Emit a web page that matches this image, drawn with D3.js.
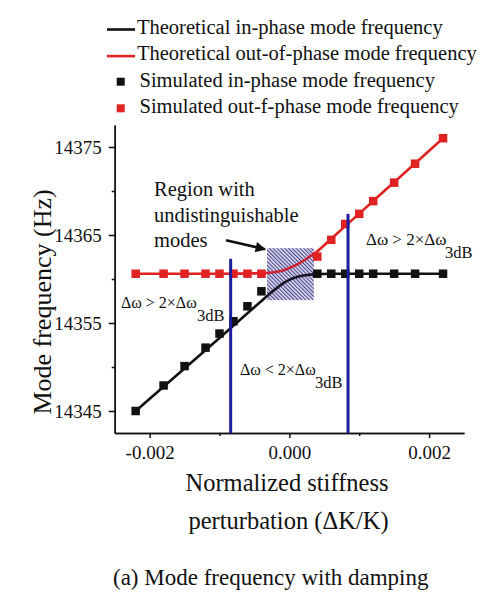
<!DOCTYPE html>
<html>
<head>
<meta charset="utf-8">
<script src="https://cdn.jsdelivr.net/npm/d3@7"></script>
<style>
  body { margin: 0; background: #fff; }
  svg { display: block; }
  svg text { font-family: "Liberation Serif", "Times New Roman", serif; }
</style>
</head>
<body>
<div id="chart"></div>
<script>
// simulated points (normalized stiffness perturbation vs Hz)
const simStiffness = [-0.0022, -0.0018, -0.0015, -0.0012, -0.001, -0.0008, -0.0006, -0.0004,
  0.0004, 0.0006, 0.0008, 0.001, 0.0012, 0.0015, 0.0018, 0.0022];
const simInPhase = [14345.0, 14347.9, 14350.1, 14352.2, 14353.8, 14355.2, 14356.9, 14358.6,
  14360.6, 14360.6, 14360.6, 14360.6, 14360.6, 14360.6, 14360.6, 14360.6];
const simOutPhase = [14360.6, 14360.6, 14360.6, 14360.6, 14360.6, 14360.6, 14360.6, 14360.6,
  14362.55, 14364.45, 14366.25, 14367.4, 14368.85, 14370.95, 14373.1, 14376.0];

// theoretical curves
const theoryStiffness = [-0.0022, -0.001, -0.0004, -0.0003, -0.0002, -0.0001, 0, 0.0001,
  0.0002, 0.0003, 0.0004, 0.0006, 0.001, 0.0015, 0.0022];
const theoryInPhase = [14345.0, 14353.3, 14357.5, 14358.2, 14358.85, 14359.45, 14359.9, 14360.2,
  14360.4, 14360.5, 14360.55, 14360.6, 14360.6, 14360.6, 14360.6];
const theoryOutPhase = [14360.6, 14360.6, 14360.65, 14360.7, 14360.8, 14360.95, 14361.25, 14361.6,
  14362.05, 14362.6, 14363.15, 14364.58, 14367.43, 14371.0, 14376.0];

// axes
const xTicks = [-0.002, 0, 0.002];
const xMinorTicks = [-0.001, 0.001];
const yTicks = [14345, 14355, 14365, 14375];
const yMinorTicks = [14350, 14360, 14370];

// annotations in data space
const boundaryStiffness = [-0.00084, 0.00084];
const boundaryTop = [14362.3, 14367.4];
const regionStiffness = [-0.00032, 0.00035];
const regionFreq = [14357.6, 14363.5];

const legendLabels = [
  'Theoretical in-phase mode frequency',
  'Theoretical out-of-phase mode frequency',
  'Simulated in-phase mode frequency',
  'Simulated out-f-phase mode frequency',
];
const legendKinds = ['line', 'line', 'square', 'square'];

const BLACK = '#111111';
const RED = '#e02222';
const BLUE = '#1c1c9e';
const FONT = '"Liberation Serif", "Times New Roman", serif';

class ModeChart {
  constructor(_config) {
    this.config = {
      parentElement: _config.parentElement,
      containerWidth: 490,
      containerHeight: 598,
      margin: { top: 125, right: 26, bottom: 165, left: 114.7 },
    };
    this.initVis();
  }

  initVis() {
    const vis = this;
    const cfg = vis.config;
    cfg.width = cfg.containerWidth - cfg.margin.left - cfg.margin.right;
    cfg.height = cfg.containerHeight - cfg.margin.top - cfg.margin.bottom;

    vis.svg = d3.select(cfg.parentElement).append('svg')
      .attr('width', cfg.containerWidth)
      .attr('height', cfg.containerHeight);

    vis.chart = vis.svg.append('g')
      .attr('transform', `translate(${cfg.margin.left},${cfg.margin.top})`);

    vis.xScale = d3.scaleLinear().domain([-0.0025, 0.0025]).range([0, cfg.width]);
    vis.yScale = d3.scaleLinear().domain([14342.5, 14377.5]).range([cfg.height, 0]);

    // hatch pattern for the region
    const defs = vis.svg.append('defs');
    const pat = defs.append('pattern')
      .attr('id', 'hatch')
      .attr('patternUnits', 'userSpaceOnUse')
      .attr('width', 2.7)
      .attr('height', 2.7)
      .attr('patternTransform', 'rotate(-45)');
    pat.append('rect').attr('width', 2.7).attr('height', 2.7).attr('fill', '#ffffff');
    pat.append('line')
      .attr('x1', 0.6).attr('y1', 0).attr('x2', 0.6).attr('y2', 2.7)
      .attr('stroke', '#2a2a78').attr('stroke-width', 1.0);

    defs.append('marker')
      .attr('id', 'arrowhead')
      .attr('viewBox', '0 0 10 10')
      .attr('refX', 9).attr('refY', 5)
      .attr('markerWidth', 5).attr('markerHeight', 4)
      .attr('markerUnits', 'strokeWidth')
      .attr('orient', 'auto')
      .append('path').attr('d', 'M0,0L10,5L0,10z').attr('fill', BLACK);

    vis.renderVis();
  }

  renderVis() {
    const vis = this;
    const cfg = vis.config;
    const x = vis.xScale;
    const y = vis.yScale;

    // axes
    const xAxis = d3.axisBottom(x).tickValues(xTicks).tickSize(5).tickSizeOuter(0)
      .tickPadding(8).tickFormat(d => d.toFixed(3));
    const xMinor = d3.axisBottom(x).tickValues(xMinorTicks).tickSize(3).tickSizeOuter(0)
      .tickFormat('');
    const yAxis = d3.axisLeft(y).tickValues(yTicks).tickSize(6).tickSizeOuter(0)
      .tickPadding(7).tickFormat(d3.format('d'));
    const yMinor = d3.axisLeft(y).tickValues(yMinorTicks).tickSize(3).tickSizeOuter(0)
      .tickFormat('');

    [
      vis.chart.append('g').attr('transform', `translate(0,${cfg.height})`).call(xMinor),
      vis.chart.append('g').attr('transform', `translate(0,${cfg.height})`).call(xAxis),
      vis.chart.append('g').call(yMinor),
      vis.chart.append('g').call(yAxis),
    ].forEach(g => {
      g.attr('font-family', FONT);
      g.selectAll('path, line').attr('stroke', BLACK).attr('stroke-width', 1.5);
      g.selectAll('text').attr('fill', BLACK).attr('font-family', FONT).attr('font-size', 19);
    });

    // region with undistinguishable modes (hatch under the curves)
    const rx = x(regionStiffness[0]);
    const ry = y(regionFreq[1]);
    const rw = x(regionStiffness[1]) - rx;
    const rh = y(regionFreq[0]) - ry;
    vis.chart.append('rect')
      .attr('x', rx).attr('y', ry).attr('width', rw).attr('height', rh)
      .attr('fill', 'url(#hatch)');

    // theory lines
    const lineGen = (vals) => d3.line()
      .x((d, i) => x(theoryStiffness[i]))
      .y(d => y(d))
      .curve(d3.curveMonotoneX)(vals);

    vis.chart.append('path')
      .attr('d', lineGen(theoryInPhase))
      .attr('fill', 'none').attr('stroke', BLACK).attr('stroke-width', 2.6);
    vis.chart.append('path')
      .attr('d', lineGen(theoryOutPhase))
      .attr('fill', 'none').attr('stroke', RED).attr('stroke-width', 2.6);

    // blue-ish tint over the region
    vis.chart.append('rect')
      .attr('x', rx).attr('y', ry).attr('width', rw).attr('height', rh)
      .attr('fill', 'rgba(70,50,170,0.14)');

    // simulated points
    const sq = 8.5;
    const drawSquares = (vals, color) => {
      vis.chart.append('g').selectAll('rect')
        .data(vals)
        .join('rect')
          .attr('x', (d, i) => x(simStiffness[i]) - sq / 2)
          .attr('y', d => y(d) - sq / 2)
          .attr('width', sq).attr('height', sq)
          .attr('fill', color);
    };
    drawSquares(simInPhase, BLACK);
    drawSquares(simOutPhase, RED);

    // 3dB boundaries
    vis.chart.append('g').selectAll('line')
      .data(boundaryStiffness)
      .join('line')
        .attr('x1', d => x(d)).attr('x2', d => x(d))
        .attr('y1', (d, i) => y(boundaryTop[i]))
        .attr('y2', cfg.height)
        .attr('stroke', BLUE).attr('stroke-width', 3);

    // arrow to region
    vis.chart.append('line')
      .attr('x1', rx - 41).attr('y1', ry - 8)
      .attr('x2', rx - 2).attr('y2', ry + 1)
      .attr('stroke', BLACK).attr('stroke-width', 2.6)
      .attr('marker-end', 'url(#arrowhead)');

    // text annotations (page coordinates)
    const regionText = vis.svg.append('text')
      .attr('fill', BLACK).attr('font-family', FONT).attr('font-size', 20.5);
    ['Region with', 'undistinguishable', 'modes'].forEach((t, i) => {
      regionText.append('tspan').attr('x', 154).attr('y', 196 + i * 25.6).text(t);
    });

    const condition = (tx, ty, main, size, subX) => {
      vis.svg.append('text').attr('fill', BLACK).attr('font-family', FONT)
        .attr('x', tx).attr('y', ty).attr('font-size', size)
        .text(main);
      vis.svg.append('text').attr('fill', BLACK).attr('font-family', FONT)
        .attr('x', subX).attr('y', ty + 13).attr('font-size', 16.5)
        .text('3dB');
    };
    condition(366, 245, 'Δω > 2×Δω', 17, 445);
    condition(121, 308, 'Δω > 2×Δω', 16, 197);
    condition(240, 375, 'Δω < 2×Δω', 16, 315);

    // axis titles
    vis.svg.append('text')
      .attr('transform', 'translate(51,302) rotate(-90)')
      .attr('text-anchor', 'middle')
      .attr('fill', BLACK).attr('font-family', FONT).attr('font-size', 26)
      .text('Mode frequency (Hz)');
    vis.svg.append('text')
      .attr('x', 287).attr('y', 491).attr('text-anchor', 'middle')
      .attr('fill', BLACK).attr('font-family', FONT).attr('font-size', 24.5)
      .text('Normalized stiffness');
    vis.svg.append('text')
      .attr('x', 288.5).attr('y', 529).attr('text-anchor', 'middle')
      .attr('fill', BLACK).attr('font-family', FONT).attr('font-size', 24.5)
      .text('perturbation (ΔK/K)');
    vis.svg.append('text')
      .attr('x', 113).attr('y', 585)
      .attr('fill', BLACK).attr('font-family', FONT).attr('font-size', 23)
      .text('(a) Mode frequency with damping');

    // legend
    const legend = vis.svg.append('g');
    legendLabels.forEach((label, i) => {
      const base = 33.5 + i * 26.6;
      const color = i % 2 === 0 ? BLACK : RED;
      if (legendKinds[i] === 'line') {
        legend.append('line')
          .attr('x1', 107).attr('x2', 135)
          .attr('y1', base - 4).attr('y2', base - 4)
          .attr('stroke', color).attr('stroke-width', 2.6);
      } else {
        legend.append('rect')
          .attr('x', 120.7 - 4).attr('y', base - 5 - 4)
          .attr('width', 8).attr('height', 8)
          .attr('fill', color);
      }
      legend.append('text')
        .attr('x', legendKinds[i] === 'line' ? 137 : 139.5)
        .attr('y', base)
        .attr('fill', BLACK).attr('font-family', FONT).attr('font-size', 20.5)
        .text(label);
    });
  }
}

const chart = new ModeChart({ parentElement: '#chart' });
</script>
</body>
</html>
